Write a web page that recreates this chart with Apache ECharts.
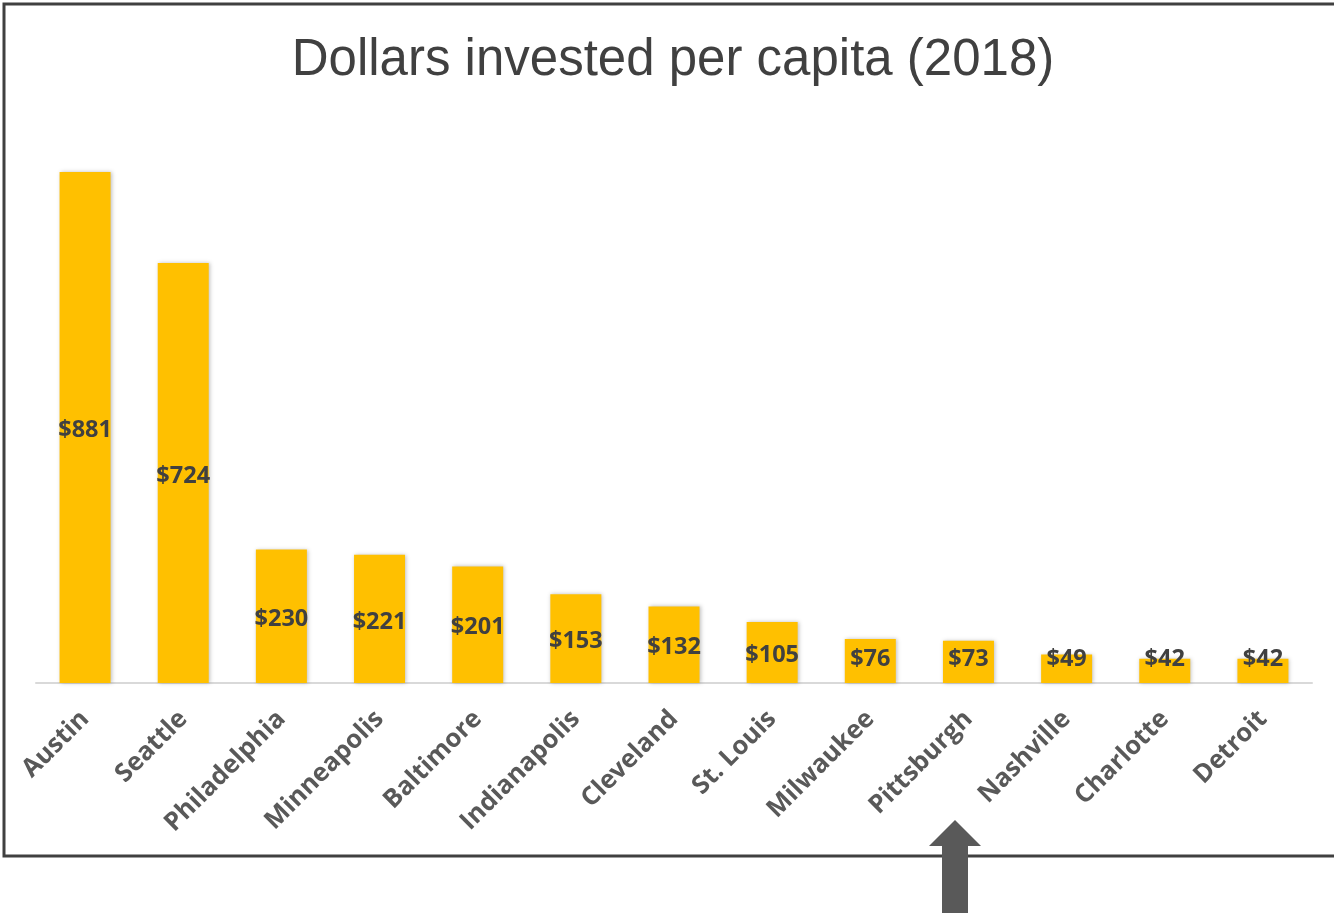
<!DOCTYPE html>
<html>
<head>
<meta charset="utf-8">
<script src="https://cdn.jsdelivr.net/npm/echarts@6/dist/echarts.min.js"></script>
<style>
  html, body { margin: 0; padding: 0; background: #fff; }
  #chart { width: 1334px; height: 913px; }
</style>
</head>
<body>
<div id="chart"></div>
<script>
// City names along the x axis
const cities = ['Austin', 'Seattle', 'Philadelphia', 'Minneapolis', 'Baltimore', 'Indianapolis',
  'Cleveland', 'St. Louis', 'Milwaukee', 'Pittsburgh', 'Nashville', 'Charlotte', 'Detroit'];
// Dollars invested per capita, 2018
const perCapita = [881, 724, 230, 221, 201, 153, 132, 105, 76, 73, 49, 42, 42];
// Value axis range
const yMin = 0;
const yMax = 1000;

const chart = echarts.init(document.getElementById('chart'), null, { renderer: 'canvas' });

chart.setOption({
  backgroundColor: '#ffffff',
  animation: false,
  title: {
    text: 'Dollars invested per capita (2018)',
    left: 668,
    textAlign: 'center',
    top: 30,
    textStyle: {
      fontFamily: 'Liberation Sans, Arial, sans-serif',
      fontWeight: 'normal',
      fontSize: 51,
      color: '#404040'
    }
  },
  grid: { left: 36, top: 103, width: 1276, height: 580, containLabel: false },
  xAxis: {
    type: 'category',
    data: cities,
    axisLine: { lineStyle: { color: '#d9d9d9', width: 2 } },
    axisTick: { show: false },
    axisLabel: {
      rotate: 45,
      margin: 32,
      interval: 0,
      fontFamily: 'Open Sans, sans-serif',
      fontWeight: 'bold',
      fontSize: 25.5,
      color: '#595959'
    }
  },
  yAxis: {
    type: 'value',
    min: yMin,
    max: yMax,
    show: false,
    splitLine: { show: false }
  },
  series: [{
    type: 'bar',
    data: perCapita,
    barWidth: 51,
    itemStyle: {
      color: '#FFC000',
      shadowColor: 'rgba(0,0,0,0.25)',
      shadowBlur: 4,
      shadowOffsetX: 1,
      shadowOffsetY: 0
    },
    label: {
      show: true,
      position: 'inside',
      formatter: p => '$' + p.value,
      fontFamily: 'Open Sans, sans-serif',
      fontWeight: 'bold',
      fontSize: 23.5,
      color: '#404040'
    },
    // centre value labels in the bar, but keep them clear of the axis on short bars
    labelLayout: p => {
      const bottom = p.rect.y + p.rect.height;
      const mid = p.rect.y + p.rect.height / 2 + 3;
      return {
        x: p.rect.x + p.rect.width / 2,
        y: Math.min(mid, bottom - 24),
        align: 'center',
        verticalAlign: 'middle'
      };
    }
  }],
  graphic: [
    {
      // outer frame
      type: 'rect',
      shape: { x: 4, y: 4, width: 1340, height: 852 },
      style: { fill: null, stroke: '#404040', lineWidth: 3 },
      silent: true
    },
    {
      // arrow pointing up at Pittsburgh
      type: 'polygon',
      shape: {
        points: [[955, 820], [981, 846], [968, 846], [968, 913], [942, 913], [942, 846], [929, 846]]
      },
      style: { fill: '#595959' },
      silent: true
    }
  ]
});
</script>
</body>
</html>
